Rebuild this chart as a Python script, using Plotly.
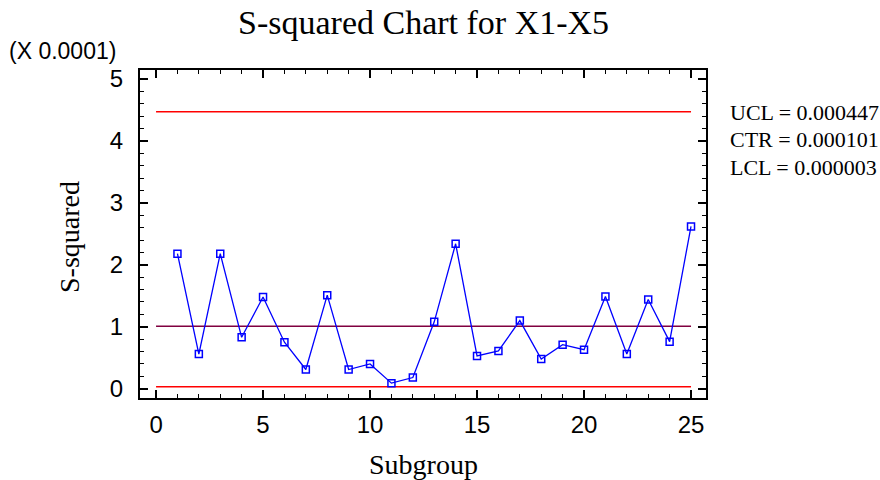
import plotly.graph_objects as go

subgroups = list(range(1, 26))
s_squared = [2.18, 0.56, 2.18, 0.83, 1.48, 0.75, 0.31, 1.51, 0.31, 0.40,
             0.09, 0.18, 1.08, 2.34, 0.53, 0.61, 1.10, 0.48, 0.71, 0.63,
             1.49, 0.56, 1.44, 0.76, 2.62]
ucl = 4.47
ctr = 1.01
lcl = 0.03
limit_x = [0, 25]
legend_lines = ["UCL = 0.000447", "CTR = 0.000101", "LCL = 0.000003"]
x_ticks = [0, 5, 10, 15, 20, 25]
y_ticks = [0, 1, 2, 3, 4, 5]

W, H = 880, 480
L, R, T, B = 140, 706, 70, 398

def px(x):
    return (x - L) / (R - L)

def py(y):
    return (B - y) / (B - T)

fig = go.Figure()
fig.add_trace(go.Scatter(x=limit_x, y=[ucl, ucl], mode="lines",
                         line=dict(color="#ff0000", width=1.5), hoverinfo="skip"))
fig.add_trace(go.Scatter(x=limit_x, y=[ctr, ctr], mode="lines",
                         line=dict(color="#800040", width=1.5), hoverinfo="skip"))
fig.add_trace(go.Scatter(x=limit_x, y=[lcl, lcl], mode="lines",
                         line=dict(color="#ff0000", width=1.5), hoverinfo="skip"))
fig.add_trace(go.Scatter(x=subgroups, y=s_squared, mode="lines+markers",
                         line=dict(color="#0000ff", width=1.3),
                         marker=dict(symbol="square-open", size=7, color="#0000ff",
                                     line=dict(width=1.5, color="#0000ff"))))

axis_common = dict(showgrid=False, zeroline=False, showline=True, linecolor="black",
                   linewidth=2, mirror="ticks", ticks="inside", ticklen=8, tickwidth=1.5,
                   tickcolor="black",
                   tickfont=dict(family="Liberation Sans, Arial", size=24, color="black"))

fig.update_layout(
    width=W, height=H,
    margin=dict(l=L, r=W - R, t=T, b=H - B),
    paper_bgcolor="white", plot_bgcolor="white",
    showlegend=False,
    xaxis=dict(range=[-0.75, 25.7], tickvals=x_ticks, ticklabelstandoff=4,
               minor=dict(dtick=1, ticks="inside", ticklen=4, tickwidth=1.2, tickcolor="black"),
               **axis_common),
    yaxis=dict(range=[-0.15, 5.145], tickvals=y_ticks, ticklabelstandoff=10,
               minor=dict(dtick=0.2, ticks="inside", ticklen=4, tickwidth=1.2, tickcolor="black"),
               **axis_common),
)

serif = "Liberation Serif, Times New Roman, serif"
anns = [
    dict(text="S-squared Chart for X1-X5", x=0.5, y=py(22), xanchor="center", yanchor="middle",
         font=dict(family=serif, size=34, color="black")),
    dict(text="Subgroup", x=px(423), y=py(464), xanchor="center", yanchor="middle",
         font=dict(family=serif, size=28, color="black")),
    dict(text="S-squared", x=px(69), y=py(237), xanchor="center", yanchor="middle", textangle=-90,
         font=dict(family=serif, size=28, color="black")),
    dict(text="(X 0.0001)", x=px(7), y=py(51), xanchor="left", yanchor="middle",
         font=dict(family="Liberation Sans, Arial", size=23, color="black")),
]
for i, t in enumerate(legend_lines):
    anns.append(dict(text=t, x=px(728), y=py(112 + 27.5 * i), xanchor="left", yanchor="middle",
                     font=dict(family=serif, size=22, color="black")))
for a in anns:
    a.update(xref="paper", yref="paper", showarrow=False)
fig.update_layout(annotations=anns)

fig.write_html("out.html")
